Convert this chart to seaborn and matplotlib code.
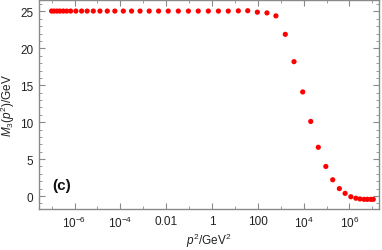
import matplotlib
matplotlib.use("Agg")
import matplotlib.pyplot as plt
import matplotlib.ticker as mticker
import numpy as np
import pandas as pd
import seaborn as sns

# data: log10(p^2 / GeV^2) and M3 in GeV
log_p2 = [-7.00, -6.89, -6.76, -6.64, -6.49, -6.34, -6.17, -5.94, -5.69, -5.45,
          -5.18, -4.89, -4.57, -4.24, -3.87, -3.51, -3.14, -2.74, -2.33, -1.91,
          -1.47, -1.03, -0.60, -0.16, 0.28, 0.71, 1.15, 1.56, 1.98, 2.40,
          2.79, 3.20, 3.58, 3.96, 4.31, 4.64, 4.97, 5.27, 5.56, 5.81,
          6.06, 6.28, 6.46, 6.64, 6.78, 6.93, 7.04]
m3 = [25.05, 25.05, 25.05, 25.05, 25.05, 25.05, 25.05, 25.05, 25.05, 25.05,
      25.05, 25.05, 25.05, 25.05, 25.05, 25.05, 25.05, 25.05, 25.05, 25.05,
      25.05, 25.05, 25.05, 25.05, 25.05, 25.05, 25.08, 25.1, 24.9, 24.8,
      24.4, 21.9, 18.2, 14.1, 10.1, 6.6, 4.0, 2.2, 1.0, 0.36,
      -0.1, -0.3, -0.4, -0.45, -0.45, -0.45, -0.45]

major_exp = [-6, -4, -2, 0, 2, 4, 6]
major_labels = [r"$10^{-6}$", r"$10^{-4}$", "0.01", "1", "100", r"$10^{4}$", r"$10^{6}$"]
minor_exp = [-7, -5, -3, -1, 1, 3, 5, 7]

df = pd.DataFrame({"p2": np.power(10.0, log_p2), "m3": m3})

sns.set_style("ticks")
plt.rcParams["font.family"] = ["Liberation Sans", "DejaVu Sans"]
plt.rcParams["mathtext.fontset"] = "custom"
plt.rcParams["mathtext.rm"] = "Liberation Sans"
plt.rcParams["mathtext.it"] = "Liberation Sans:italic"

fig = plt.figure(figsize=(3.82, 2.51), dpi=100)
ax = fig.add_axes([39 / 382, 1 - 210 / 251, 340 / 382, 209 / 251])

sns.scatterplot(data=df, x="p2", y="m3", color="#ff0000", s=14,
                edgecolor="none", ax=ax)

ax.set_xscale("log")
ax.set_xlim(10 ** -7.55, 10 ** 7.29)
ax.set_ylim(-1.76, 26.55)

ax.xaxis.set_major_locator(mticker.FixedLocator([10.0 ** e for e in major_exp]))
ax.xaxis.set_major_formatter(mticker.FixedFormatter(major_labels))
ax.xaxis.set_minor_locator(mticker.FixedLocator([10.0 ** e for e in minor_exp]))
ax.xaxis.set_minor_formatter(mticker.NullFormatter())
ax.yaxis.set_major_locator(mticker.MultipleLocator(5))
ax.yaxis.set_minor_locator(mticker.MultipleLocator(1))

frame = "#8a8a8a"
for sp in ax.spines.values():
    sp.set_visible(True)
    sp.set_color(frame)
    sp.set_linewidth(1.0)
ax.tick_params(which="both", direction="in", top=True, right=True,
               color=frame, labelcolor="#222222", labelsize=8.5)
ax.tick_params(which="major", length=4, width=0.8, pad=4)
ax.tick_params(which="minor", length=2, width=0.6)

ax.set_xlabel(r"$p^2$/GeV$^2$", fontsize=8.5, color="#222222", labelpad=1)
ax.set_ylabel(r"$M_3(p^2)$/GeV", fontsize=8.5, color="#222222", labelpad=2)

ax.text(0.068, 0.114, "(c)", transform=ax.transAxes, fontsize=11,
        fontweight="bold", ha="center", va="center", color="#111111")

fig.savefig("out.png", dpi=100)
